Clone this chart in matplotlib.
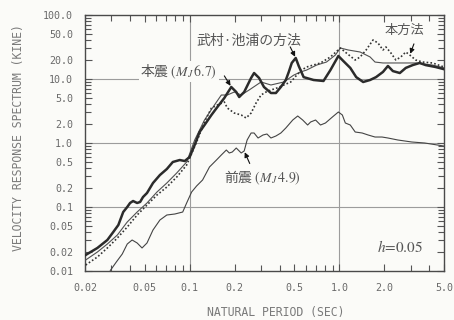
import matplotlib
matplotlib.use("Agg")
import matplotlib.pyplot as plt
from matplotlib.ticker import FixedLocator, FixedFormatter, LogLocator, NullFormatter

plt.rcParams['mathtext.fontset'] = 'stix'

# Natural period (s) and velocity response (kine), h = 0.05
main_T = [0.0202, 0.0242, 0.0282, 0.0309, 0.0334, 0.0360, 0.0383, 0.0400, 0.0419, 0.0446,
          0.0467, 0.0488, 0.0519, 0.0569, 0.0633, 0.0704, 0.0772, 0.0859, 0.0927, 0.100,
          0.108, 0.1165, 0.1257, 0.1398, 0.1532, 0.1705, 0.1897, 0.2048, 0.2143, 0.2313,
          0.2574, 0.2694, 0.2907, 0.3137, 0.3491, 0.3768, 0.4067, 0.4389, 0.4594, 0.4809,
          0.5112, 0.5351, 0.5774, 0.6725, 0.7834, 0.8717, 0.985, 1.063, 1.183, 1.296,
          1.442, 1.604, 1.758, 1.956, 2.111, 2.278, 2.535, 2.778, 3.090, 3.439,
          3.769, 4.389, 4.96]
main_V = [0.0178, 0.0229, 0.0305, 0.0407, 0.0523, 0.0835, 0.100, 0.1155, 0.124, 0.1155,
          0.120, 0.143, 0.1655, 0.237, 0.316, 0.392, 0.505, 0.542, 0.523, 0.604,
          0.93, 1.485, 1.91, 2.74, 3.65, 5.05, 7.5, 6.26, 5.23, 6.26,
          10.4, 12.4, 10.4, 7.5, 6.04, 6.04, 7.5, 9.65, 12.9, 17.8,
          21.3, 16.0, 10.7, 9.65, 9.31, 13.8, 22.9, 19.1, 14.9, 10.7,
          8.98, 9.65, 10.7, 12.9, 16.0, 13.3, 12.4, 14.9, 16.5, 17.8,
          16.5, 15.4, 14.3]

dotted_T = [0.0202, 0.0242, 0.0282, 0.0329, 0.0383, 0.0446, 0.0519, 0.0605, 0.0704, 0.0820,
            0.0955, 0.1113, 0.1257, 0.1398, 0.1532, 0.1705, 0.1785, 0.1986, 0.2210, 0.2384,
            0.2574, 0.2778, 0.2998, 0.3236, 0.3491, 0.3826, 0.4257, 0.4737, 0.5190, 0.5602,
            0.6045, 0.7483, 0.8717, 1.015, 1.113, 1.276, 1.377, 1.509, 1.679, 1.812,
            1.956, 2.048, 2.210, 2.385, 2.574, 2.778, 2.953, 3.236, 3.599, 4.194, 5.0]
dotted_V = [0.0124, 0.01655, 0.0229, 0.0328, 0.0487, 0.075, 0.1075, 0.154, 0.205, 0.294,
            0.453, 1.037, 2.13, 3.52, 3.92, 4.37, 3.52, 2.94, 2.74, 2.46,
            2.94, 4.22, 5.62, 6.26, 6.73, 7.23, 8.06, 8.98, 11.5, 13.8,
            15.4, 17.8, 22.1, 30.5, 25.5, 19.8, 22.1, 28.4, 40.7, 36.5,
            28.4, 31.6, 25.5, 19.8, 22.1, 26.4, 23.7, 19.8, 18.4, 17.8, 15.4]

thin_T = [0.0202, 0.0242, 0.0282, 0.0329, 0.0383, 0.0446, 0.0519, 0.0605, 0.0704, 0.0820,
          0.0955, 0.108, 0.1257, 0.1464, 0.1628, 0.1785, 0.1986, 0.2210, 0.2496, 0.2998,
          0.3491, 0.4257, 0.4956, 0.5518, 0.6045, 0.7043, 0.8201, 0.9408, 1.015, 1.147,
          1.377, 1.604, 1.731, 1.956, 2.535, 3.236, 4.194, 5.0]
thin_V = [0.01485, 0.0198, 0.0264, 0.0365, 0.0583, 0.0835, 0.1155, 0.1715, 0.237, 0.34,
          0.505, 1.11, 2.29, 3.92, 5.62, 5.62, 6.26, 5.62, 6.73, 8.98,
          8.06, 8.98, 11.5, 12.9, 13.8, 16.5, 18.4, 23.7, 30.5, 28.4,
          26.4, 22.1, 18.4, 17.8, 17.8, 17.8, 16.5, 14.9]

fore_T = [0.02953, 0.03236, 0.03546, 0.0383, 0.04128, 0.0446, 0.04809, 0.0519, 0.0569, 0.0633,
          0.0704, 0.0796, 0.0899, 0.0955, 0.1031, 0.1113, 0.1220, 0.1357, 0.1510, 0.1628,
          0.1758, 0.1840, 0.1927, 0.2048, 0.2210, 0.2313, 0.2421, 0.2574, 0.2694, 0.2864,
          0.3091, 0.3285, 0.3491, 0.3768, 0.4067, 0.4389, 0.4883, 0.5271, 0.5689, 0.6140,
          0.6428, 0.6937, 0.7483, 0.8078, 0.8988, 0.985, 1.047, 1.096, 1.183, 1.276,
          1.420, 1.556, 1.731, 1.927, 2.111, 2.459, 3.044, 3.712, 4.525, 4.96]
fore_V = [0.0102, 0.0138, 0.0184, 0.0264, 0.0305, 0.0274, 0.0229, 0.0274, 0.0437, 0.0626,
          0.075, 0.0777, 0.0835, 0.1155, 0.1715, 0.213, 0.264, 0.422, 0.542, 0.65,
          0.777, 0.698, 0.723, 0.835, 0.698, 0.75, 1.114, 1.433, 1.433, 1.197,
          1.334, 1.382, 1.197, 1.286, 1.433, 1.715, 2.287, 2.642, 2.287, 1.91,
          2.129, 2.287, 1.91, 2.054, 2.549, 3.05, 2.74, 2.054, 1.91, 1.485,
          1.433, 1.334, 1.24, 1.24, 1.197, 1.114, 1.037, 1.0, 0.93, 0.898]

x_ticks = [0.02, 0.05, 0.1, 0.2, 0.5, 1.0, 2.0, 5.0]
x_labels = ['0.02', '0.05', '0.1', '0.2', '0.5', '1.0', '2.0', '5.0']
y_ticks = [100, 50, 20, 10, 5, 2, 1, 0.5, 0.2, 0.1, 0.05, 0.02, 0.01]
y_labels = ['100.0', '50.0', '20.0', '10.0', '5.0', '2.0', '1.0', '0.5', '0.2', '0.1',
            '0.05', '0.02', '0.01']
grid_x = [0.1, 1.0]
grid_y = [0.1, 1.0, 10.0]

BG = '#fbfbf8'
INK = '#2b2b2b'
GREY_TXT = '#6a6a6a'
CJK = ['Noto Sans CJK JP', 'DejaVu Sans']
MONO = 'DejaVu Sans Mono'

fig = plt.figure(figsize=(4.54, 3.2), dpi=100, facecolor=BG)
ax = fig.add_axes([85 / 454, 1 - 271 / 320, 359 / 454, 256 / 320], facecolor=BG)
ax.set_xscale('log')
ax.set_yscale('log')
ax.set_xlim(0.02, 5.0)
ax.set_ylim(0.01, 100.0)

for g in grid_x:
    ax.axvline(g, color='#9c9c9c', lw=0.8, zorder=1)
for g in grid_y:
    ax.axhline(g, color='#9c9c9c', lw=0.8, zorder=1)

ax.plot(fore_T, fore_V, color='#444444', lw=0.8, zorder=3)
ax.plot(thin_T, thin_V, color='#505050', lw=0.8, zorder=3)
ax.plot(dotted_T, dotted_V, color='#333333', lw=1.2, ls=(0, (1.0, 1.3)), zorder=4)
ax.plot(main_T, main_V, color=INK, lw=1.8, zorder=5)

ax.xaxis.set_major_locator(FixedLocator(x_ticks))
ax.xaxis.set_major_formatter(FixedFormatter(x_labels))
ax.yaxis.set_major_locator(FixedLocator(y_ticks))
ax.yaxis.set_major_formatter(FixedFormatter(y_labels))
for axis in (ax.xaxis, ax.yaxis):
    axis.set_minor_locator(LogLocator(base=10, subs=range(1, 10), numticks=20))
    axis.set_minor_formatter(NullFormatter())

ax.tick_params(which='both', direction='in', top=True, right=True,
               color='#555555', width=0.8)
ax.tick_params(which='major', length=5, pad=8.5, labelsize=7.2, labelcolor=GREY_TXT)
ax.tick_params(which='minor', length=4)
for lab in ax.get_xticklabels() + ax.get_yticklabels():
    lab.set_family(MONO)

for s in ax.spines.values():
    s.set_color('#4a4a4a')
    s.set_linewidth(1.0)

ax.set_xlabel('NATURAL PERIOD (SEC)', family=MONO, fontsize=8.3, color='#7a7a7a')
ax.xaxis.set_label_coords(0.53, -0.135)
ax.set_ylabel('VELOCITY RESPONSE SPECTRUM (KINE)', family=MONO, fontsize=8.3, color='#7a7a7a')
ax.yaxis.set_label_coords(-0.168, 0.52)

# Curve labels
ax.text(0.111, 39.0, '武村·池浦の方法', family=CJK, fontsize=10, color='#555555',
        ha='left', va='center', zorder=6)
ax.text(2.02, 58.0, '本方法', family=CJK, fontsize=9.5, color='#555555',
        ha='left', va='center', zorder=6)
ax.text(0.0467, 12.9, r'本震 $(M_J\,6.7)$', family=CJK, fontsize=10, color='#555555',
        ha='left', va='center', zorder=6,
        bbox=dict(facecolor=BG, edgecolor='none', pad=1.0))
ax.text(0.1705, 0.284, r'前震 $(M_J\,4.9)$', family=CJK, fontsize=10, color='#555555',
        ha='left', va='center', zorder=6)
ax.text(1.785, 0.0237, r'$h$=0.05', fontsize=11, color='#555555', family='STIXGeneral',
        ha='left', va='center', zorder=6)

arrow = dict(arrowstyle='-|>', color='#111111', lw=0.8, mutation_scale=7,
             shrinkA=0, shrinkB=1)
ax.annotate('', xy=(main_T[26], main_V[26]), xytext=(-5, 8),
            textcoords='offset points', arrowprops=arrow, zorder=7)
ax.annotate('', xy=(main_T[40], main_V[40]), xytext=(-4, 8),
            textcoords='offset points', arrowprops=arrow, zorder=7)
ax.annotate('', xy=(dotted_T[46], dotted_V[46]), xytext=(3, 8),
            textcoords='offset points', arrowprops=arrow, zorder=7)
ax.annotate('', xy=(fore_T[25], fore_V[25]), xytext=(4, -9),
            textcoords='offset points', arrowprops=arrow, zorder=7)

fig.savefig('out.png', dpi=100, facecolor=BG)
